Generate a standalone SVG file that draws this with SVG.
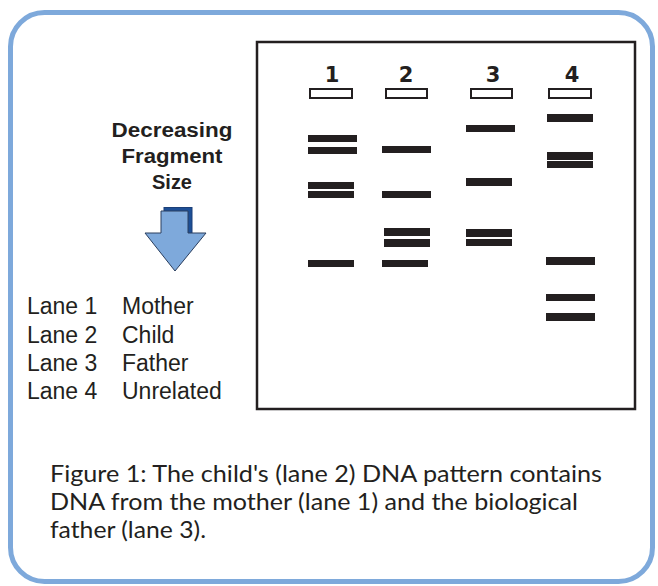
<svg xmlns="http://www.w3.org/2000/svg" width="658" height="586" viewBox="0 0 658 586">
<style>
.band{fill:#231f20}
.well{fill:#fff;stroke:#231f20;stroke-width:2}
.num{font-family:"DejaVu Sans","Liberation Sans",sans-serif;font-weight:bold;font-size:21px;fill:#231f20;text-anchor:middle}
.head{font-family:"Liberation Sans",Arial,sans-serif;font-weight:bold;font-size:20px;fill:#231f20;text-anchor:middle}
.leg{font-family:"Liberation Sans",Arial,sans-serif;font-size:23px;fill:#231f20}
.cap{font-family:"Lato","Open Sans",sans-serif;font-size:23px;fill:#231f20}
</style>
<rect width="658" height="586" fill="#fff"/>
<rect id="frame" x="10.5" y="12.5" width="642" height="569" rx="34" fill="#fff" stroke="#7ea9db" stroke-width="5"/>
<g id="gel">
<rect x="257" y="42" width="378" height="367" fill="#fff" stroke="#231f20" stroke-width="2.5"/>
<text class="num" x="332" y="82">1</text>
<text class="num" x="406" y="82">2</text>
<text class="num" x="493" y="82">3</text>
<text class="num" x="572" y="82">4</text>
<rect class="well" x="310" y="89" width="42" height="9"/>
<rect class="well" x="386" y="89" width="41" height="9"/>
<rect class="well" x="471" y="89" width="41" height="9"/>
<rect class="well" x="549" y="89" width="42" height="9"/>
</g>
<g id="lane1">
<rect class="band" x="308" y="135" width="49" height="7"/>
<rect class="band" x="308" y="147" width="49" height="7"/>
<rect class="band" x="308" y="182" width="46" height="7"/>
<rect class="band" x="308" y="191" width="46" height="7"/>
<rect class="band" x="308" y="260" width="46" height="7"/>
</g>
<g id="lane2">
<rect class="band" x="382" y="146" width="49" height="7"/>
<rect class="band" x="382" y="191" width="49" height="7"/>
<rect class="band" x="384" y="228" width="46" height="8"/>
<rect class="band" x="384" y="239" width="46" height="8"/>
<rect class="band" x="382" y="260" width="46" height="7"/>
</g>
<g id="lane3">
<rect class="band" x="466" y="125" width="49" height="7"/>
<rect class="band" x="466" y="178" width="46" height="8"/>
<rect class="band" x="466" y="229" width="46" height="8"/>
<rect class="band" x="466" y="239" width="46" height="7"/>
</g>
<g id="lane4">
<rect class="band" x="547" y="114" width="46" height="8"/>
<rect class="band" x="547" y="152" width="46" height="8"/>
<rect class="band" x="547" y="161" width="46" height="7"/>
<rect class="band" x="546" y="257" width="49" height="8"/>
<rect class="band" x="546" y="294" width="49" height="7"/>
<rect class="band" x="546" y="313" width="49" height="8"/>
</g>
<g id="heading">
<text class="head" x="172" y="137" textLength="121" lengthAdjust="spacingAndGlyphs">Decreasing</text>
<text class="head" x="172" y="163" textLength="101" lengthAdjust="spacingAndGlyphs">Fragment</text>
<text class="head" x="172" y="189" textLength="40" lengthAdjust="spacingAndGlyphs">Size</text>
</g>
<g id="arrow">
<rect x="164" y="207.5" width="28" height="28" fill="#1d4f96" stroke="#1b3f78" stroke-width="1"/>
<polygon points="161,211 188,211 188,233 206,233 175,271 145,233 161,233" fill="#7ea9db" stroke="#2a3e5e" stroke-width="1"/>
</g>
<g id="legend">
<text class="leg" x="27" y="314">Lane 1</text><text class="leg" x="122" y="314">Mother</text>
<text class="leg" x="27" y="343">Lane 2</text><text class="leg" x="122" y="343">Child</text>
<text class="leg" x="27" y="371">Lane 3</text><text class="leg" x="122" y="371">Father</text>
<text class="leg" x="27" y="399">Lane 4</text><text class="leg" x="122" y="399">Unrelated</text>
</g>
<g id="caption">
<text class="cap" x="50" y="482" textLength="552" lengthAdjust="spacingAndGlyphs">Figure 1: The child's (lane 2) DNA pattern contains</text>
<text class="cap" x="50" y="510" textLength="528" lengthAdjust="spacingAndGlyphs">DNA from the mother (lane 1) and the biological</text>
<text class="cap" x="50" y="538" textLength="156" lengthAdjust="spacingAndGlyphs">father (lane 3).</text>
</g>
</svg>
